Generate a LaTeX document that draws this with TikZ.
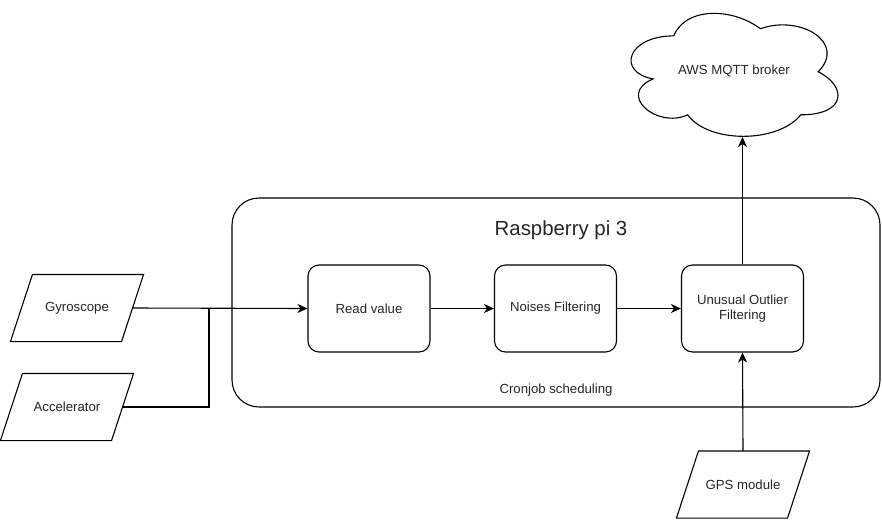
\documentclass[tikz,border=0pt]{standalone}
\usepackage{fontspec}
\setmainfont{Liberation Sans}
\usetikzlibrary{arrows.meta}
\begin{document}
\begin{tikzpicture}[x=1pt,y=-1pt,
  line width=1.1pt,
  every node/.style={font=\fontsize{13.2}{15}\selectfont, text=black!85},
  para/.style={minimum width=132pt, minimum height=66pt, inner sep=0pt},
  procbox/.style={draw, rounded corners=11pt, minimum width=122pt, minimum height=87pt,
    align=center, inner sep=0pt},
  arr/.style={-{Stealth[length=10pt,width=9pt,inset=3pt]}}
]
\useasboundingbox (0,0) rectangle (882,519);
% container
\node[draw, rounded corners=27pt, minimum width=648pt, minimum height=209pt, inner sep=0pt] (rpi) at (556,302.5) {};
\node[font=\fontsize{20.4}{23}\selectfont] (rpititle) at (561,230) {Raspberry pi 3};
\node (cron) at (556,390) {Cronjob scheduling};
% inputs
\node[para] (gyro) at (77,308) {Gyroscope};
\node[para] (acc) at (67,407) {Accelerator};
\node[para] (gps) at (743,484.5) {GPS module};
\foreach \n in {gyro,acc,gps}
  \draw ([xshift=22pt]\n.north west) -- (\n.north east) -- ([xshift=-22pt]\n.south east) -- (\n.south west) -- cycle;
% processing
\node[procbox] (read) at (369,308.5) {Read value};
\node[procbox] (noise) at (555.5,308.5) {Noises Filtering};
\node[procbox] (outlier) at (742.5,308.5) {Unusual Outlier\\Filtering};
% cloud
\begin{scope}[shift={(616,0)}]
\def\w{231}\def\h{143.5}
\draw (0.25*\w,0.25*\h)
  .. controls (0.05*\w,0.25*\h) and (0,0.5*\h) .. (0.16*\w,0.55*\h)
  .. controls (0,0.66*\h) and (0.18*\w,0.9*\h) .. (0.31*\w,0.8*\h)
  .. controls (0.4*\w,\h) and (0.7*\w,\h) .. (0.8*\w,0.8*\h)
  .. controls (\w,0.8*\h) and (\w,0.6*\h) .. (0.875*\w,0.5*\h)
  .. controls (\w,0.3*\h) and (0.8*\w,0.1*\h) .. (0.625*\w,0.2*\h)
  .. controls (0.5*\w,0.05*\h) and (0.3*\w,0.05*\h) .. (0.25*\w,0.25*\h) -- cycle;
\end{scope}
\node (aws) at (734,71) {AWS MQTT broker};
\coordinate (awsbottom) at (743,137);
\coordinate (junc) at (209,308);
% connectors
\draw[arr] ([xshift=-11pt]gyro.east) -- (read.west);
\draw ([xshift=-11pt]acc.east) -| (junc);
\draw[arr] (read.east) -- (noise.west);
\draw[arr] (noise.east) -- (outlier.west);
\draw[arr] (outlier.north) -- (outlier.north |- awsbottom);
\draw[arr] (gps.north) -- (outlier.south);
\end{tikzpicture}
\end{document}
